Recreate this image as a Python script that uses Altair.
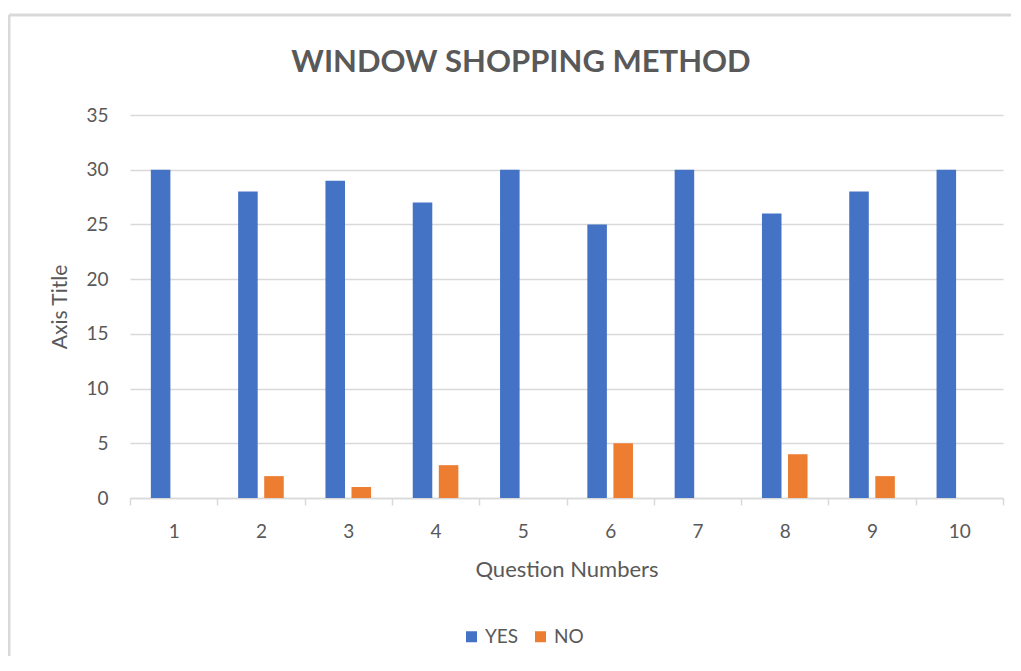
import altair as alt
import pandas as pd

questions = ["1", "2", "3", "4", "5", "6", "7", "8", "9", "10"]
yes_values = [30, 28, 29, 27, 30, 25, 30, 26, 28, 30]
no_values = [0, 2, 1, 3, 0, 5, 0, 4, 2, 0]
series = ["YES", "NO"]
colors = ["#4472C4", "#ED7D31"]
y_ticks = [0, 5, 10, 15, 20, 25, 30, 35]
chart_title = "WINDOW SHOPPING METHOD"

rows = []
for q, yv, nv in zip(questions, yes_values, no_values):
    rows.append({"question": q, "answer": "YES", "count": yv})
    rows.append({"question": q, "answer": "NO", "count": nv})
df = pd.DataFrame(rows)

FONT = "Lato"
GRAY = "#595959"
W, H = 873, 383

bars = alt.Chart(df).mark_bar().encode(
    x=alt.X(
        "question:O",
        sort=questions,
        scale=alt.Scale(paddingInner=0, paddingOuter=0),
        axis=alt.Axis(
            title="Question Numbers",
            labelAngle=0,
            tickBand="extent",
            tickSize=7,
            tickColor="#d9d9d9",
            tickWidth=1.5,
            domainColor="#d9d9d9",
            domainWidth=1.5,
            labelPadding=17,
            labelFontSize=19,
            labelColor=GRAY,
            labelFont=FONT,
            titleFont=FONT,
            titleFontSize=22,
            titleFontWeight="normal",
            titleColor=GRAY,
            titleY=71,
            titleBaseline="middle",
            grid=False,
        ),
    ),
    xOffset=alt.XOffset(
        "answer:N",
        sort=series,
        scale=alt.Scale(paddingInner=0.25, paddingOuter=0.8),
    ),
    y=alt.Y(
        "count:Q",
        scale=alt.Scale(domain=[0, 35], nice=False),
        axis=alt.Axis(
            title="Axis Title",
            values=y_ticks,
            domain=False,
            ticks=False,
            gridColor="#d9d9d9",
            gridWidth=1.5,
            labelPadding=22,
            labelFontSize=19,
            labelColor=GRAY,
            labelFont=FONT,
            titleFont=FONT,
            titleFontSize=21,
            titleFontWeight="normal",
            titleColor=GRAY,
            titleX=-70,
            titleY=H / 2,
            titleBaseline="middle",
        ),
    ),
    color=alt.Color(
        "answer:N",
        sort=series,
        scale=alt.Scale(domain=series, range=colors),
        legend=alt.Legend(
            title=None,
            orient="none",
            direction="horizontal",
            legendX=332,
            legendY=512,
            symbolType="square",
            symbolSize=121,
            symbolStrokeWidth=0,
            symbolOpacity=1,
            labelFont=FONT,
            labelFontSize=19,
            labelColor=GRAY,
            columnPadding=12,
            labelOffset=4,
        ),
    ),
)

one = alt.Data(values=[{}])
border_top = alt.Chart(one).mark_rule(color="#d9d9d9", strokeWidth=3).encode(
    x=alt.value(-121), x2=alt.value(W + 20), y=alt.value(-100)
)
border_left = alt.Chart(one).mark_rule(color="#d9d9d9", strokeWidth=3).encode(
    x=alt.value(-121), y=alt.value(-100), y2=alt.value(H + 170)
)
title_text = alt.Chart(one).mark_text(
    font=FONT, fontSize=31, fontWeight="bold", color=GRAY,
    align="center", baseline="alphabetic",
).encode(
    text=alt.value(chart_title), x=alt.value(391), y=alt.value(-43)
)

chart = alt.layer(border_top, border_left, title_text, bars).properties(
    width=W,
    height=H,
    autosize=alt.AutoSizeParams(type="none"),
    padding={"left": 122, "top": 107, "right": 8, "bottom": 158},
).configure_view(stroke=None)

chart.save("out.html", embed_options={"renderer": "svg", "actions": False})
